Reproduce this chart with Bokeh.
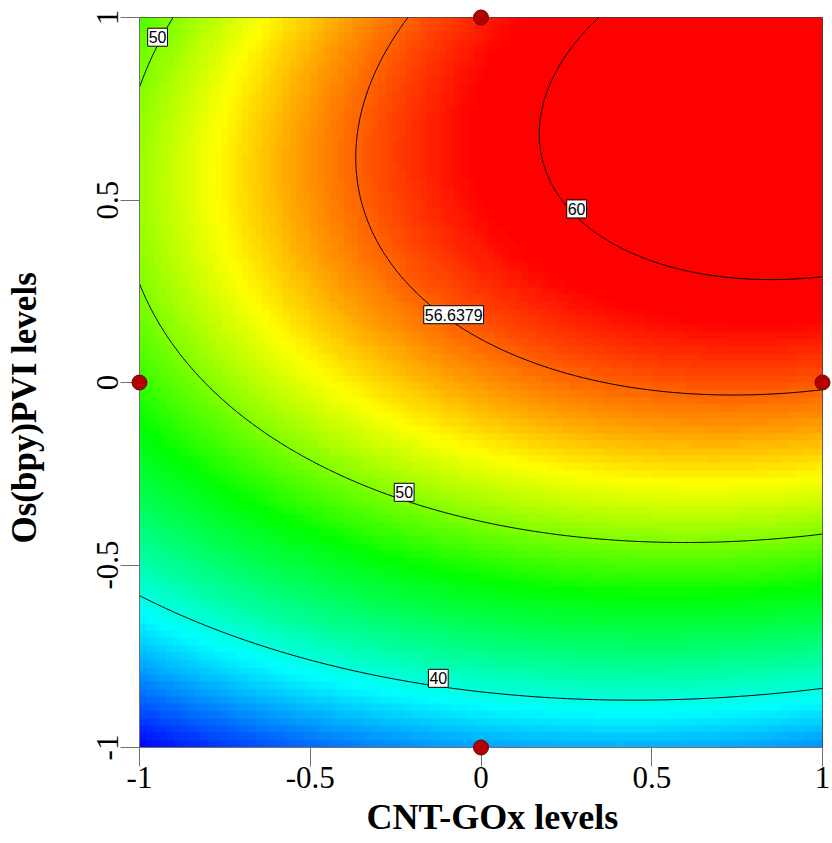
import numpy as np
from bokeh.plotting import figure
from bokeh.layouts import row
from bokeh.models import LinearColorMapper, FixedTicker, Label, Title
from bokeh.embed import file_html
from bokeh.resources import INLINE

# Second-order response surface (coded levels), coefficients
coef_b0 = 55.44
coef_b1 = 4.37     # CNT-GOx
coef_b2 = 11.10    # Os(bpy)PVI
coef_b11 = -2.91
coef_b22 = -8.40
coef_b12 = 2.03

contour_levels = [40, 50, 56.6379, 60]

label_texts = ["40", "50", "56.6379", "60", "50"]
label_levels = [40, 50, 56.6379, 60, 50]
label_x = [-0.125, -0.225, -0.08, 0.28, -0.947]
label_branch = ["lower", "lower", "lower", "lower", "upper"]

design_x = [0, -1, 1, 0]
design_y = [1, 0, 0, -1]

tick_values = [-1, -0.5, 0, 0.5, 1]
tick_labels = ["-1", "-0.5", "0", "0.5", "1"]

x_title = "CNT-GOx levels"
y_title = "Os(bpy)PVI levels"

color_stop_values = [30.7, 39.0, 47.0, 53.0, 59.0]
color_stop_colors = ["#0000FF", "#00FFFF", "#00FF00", "#FFFF00", "#FF0000"]


def response(x, y):
    return (coef_b0 + coef_b1 * x + coef_b2 * y + coef_b11 * x ** 2
            + coef_b22 * y ** 2 + coef_b12 * x * y)


def on_contour(x, level, branch):
    a = coef_b22
    b = coef_b2 + coef_b12 * x
    c = coef_b0 + coef_b1 * x + coef_b11 * x ** 2 - level
    s = np.sqrt(b * b - 4 * a * c)
    if branch == "lower":
        return (-b + s) / (2 * a)
    return (-b - s) / (2 * a)


# image grid (cell centres)
n_img = 100
cx = -1 + (np.arange(n_img) + 0.5) * 2.0 / n_img
CX, CY = np.meshgrid(cx, cx)
Z_img = response(CX, CY)

# fine grid for contour lines
gx = np.linspace(-1, 1, 301)
GX, GY = np.meshgrid(gx, gx)
Z_fine = response(GX, GY)


def hex_to_rgb(h):
    return [int(h[i:i + 2], 16) for i in (1, 3, 5)]


stops_rgb = np.array([hex_to_rgb(c) for c in color_stop_colors], dtype=float)
low = color_stop_values[0]
high = float(Z_img.max())
vals = np.linspace(low, high, 256)
palette = []
for v in vals:
    r = np.interp(v, color_stop_values, stops_rgb[:, 0])
    g = np.interp(v, color_stop_values, stops_rgb[:, 1])
    b = np.interp(v, color_stop_values, stops_rgb[:, 2])
    palette.append("#%02x%02x%02x" % (int(round(r)), int(round(g)), int(round(b))))
mapper = LinearColorMapper(palette=palette, low=low, high=high)

TOTAL_W, TOTAL_H = 832, 843
LEFT_W = 54

# narrow strip holding the y title (as a left-side title)
pt = figure(width=LEFT_W, height=TOTAL_H, x_range=(0, 1), y_range=(0, 1),
            output_backend="svg", toolbar_location=None,
            x_axis_location=None, y_axis_location=None,
            min_border_left=44, min_border_right=0, min_border_top=0, min_border_bottom=0)
pt.outline_line_color = None
pt.xgrid.visible = False
pt.ygrid.visible = False
pt.background_fill_color = "white"
pt.border_fill_color = "white"
pt.add_layout(Title(text=y_title, align="left", offset=204, vertical_align="middle",
                    standoff=0, text_font="Liberation Serif", text_font_style="bold",
                    text_font_size="35px", text_color="black"), "left")

p = figure(width=TOTAL_W - LEFT_W, height=TOTAL_H, x_range=(-1, 1), y_range=(-1, 1),
           output_backend="svg", toolbar_location=None,
           min_border_left=139 - LEFT_W, min_border_right=10, min_border_top=17,
           min_border_bottom=96)
p.background_fill_color = "white"
p.border_fill_color = "white"
p.xgrid.visible = False
p.ygrid.visible = False
p.outline_line_color = "#404040"
p.outline_line_width = 1

p.image(image=[Z_img], x=-1, y=-1, dw=2, dh=2, color_mapper=mapper)
p.contour(gx, gx, Z_fine, levels=contour_levels, line_color="black", line_width=1)

for txt, lev, lx, br in zip(label_texts, label_levels, label_x, label_branch):
    ly = float(on_contour(lx, lev, br))
    p.add_layout(Label(x=lx, y=ly, y_offset=8, text=txt, text_align="center",
                       text_baseline="middle",
                       text_font="Liberation Sans", text_font_size="16px", text_color="black",
                       background_fill_color="white", border_line_color="black",
                       border_line_width=1, padding=(1, 3)))

p.scatter(design_x, design_y, size=15, fill_color="#B00000", line_color="#6A0000",
          line_width=1, level="overlay")

for ax in (p.xaxis[0], p.yaxis[0]):
    ax.ticker = FixedTicker(ticks=tick_values)
    ax.major_label_overrides = {v: t for v, t in zip(tick_values, tick_labels)}
    ax.minor_tick_line_color = None
    ax.major_tick_out = 19
    ax.major_tick_in = 0
    ax.axis_line_color = "#707070"
    ax.major_tick_line_color = "#707070"
    ax.major_label_text_font = "Liberation Serif"
    ax.major_label_text_font_size = "31px"
    ax.major_label_text_color = "black"

p.yaxis.major_label_orientation = "vertical"
p.xaxis.major_label_standoff = 0
p.yaxis.major_label_standoff = 3

# x title below, offset to the right like the reference
p.add_layout(Title(text=x_title, align="left", offset=227, vertical_align="bottom",
                   standoff=8, text_font="Liberation Serif", text_font_style="bold",
                   text_font_size="36px", text_color="black"), "below")

layout = row(pt, p)
open("out.html", "w").write(file_html(layout, INLINE))
